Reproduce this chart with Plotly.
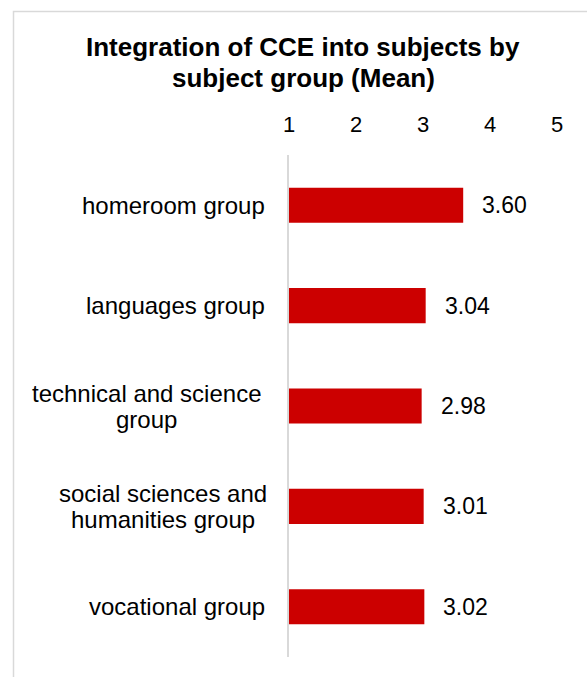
import plotly.graph_objects as go

# Subject groups (lines of each label) and their mean scores
categories = [
    "homeroom group",
    "languages group",
    "technical and science group",
    "social sciences and humanities group",
    "vocational group",
]
category_lines = [
    ["homeroom group"],
    ["languages group"],
    ["technical and science", "group"],
    ["social sciences and", "humanities group"],
    ["vocational group"],
]
means = [3.60, 3.04, 2.98, 3.01, 3.02]
tick_values = [1, 2, 3, 4, 5]
title_lines = ["Integration of CCE into subjects by", "subject group (Mean)"]

W, H = 587, 677
ML, MR, MT, MB = 289, 30, 155, 20
plot_w = W - ML - MR
plot_h = H - MT - MB

FONT = "Liberation Sans, Arial, sans-serif"
BAR_RED = "#CC0000"
GRID_GREY = "#D9D9D9"

# label placement: single lines end near the axis, wrapped ones are centred
label_x_px = [267, 267, 146, 163, 267]
label_anchor = ["right", "right", "center", "center", "right"]
LINE_STEP = 26

fig = go.Figure()
fig.add_trace(go.Bar(
    x=means,
    y=categories,
    orientation="h",
    width=0.35,
    marker=dict(color=BAR_RED, line=dict(width=0)),
    hoverinfo="skip",
))

# value labels to the right of each bar
for cat, v in zip(categories, means):
    fig.add_annotation(
        x=v, y=cat, xref="x", yref="y",
        text=f"{v:.2f}", showarrow=False,
        xanchor="left", xshift=17,
        font=dict(family=FONT, size=23, color="#000000"),
    )

# category labels, one annotation per line for tight line spacing
for cat, lines, xpx, anc in zip(categories, category_lines, label_x_px, label_anchor):
    n = len(lines)
    for i, line in enumerate(lines):
        fig.add_annotation(
            x=0, y=cat, xref="paper", yref="y",
            text=line, showarrow=False,
            xanchor=anc, xshift=xpx - ML,
            yanchor="middle", yshift=((n - 1) / 2 - i) * LINE_STEP,
            font=dict(family=FONT, size=24, color="#000000"),
        )

def px_to_paper_x(px):
    return (px - ML) / plot_w

def px_to_paper_y(py):
    return 1 - (py - MT) / plot_h

# chart title, two bold lines
for line, ypx in zip(title_lines, [47, 78]):
    fig.add_annotation(
        x=px_to_paper_x(303), y=px_to_paper_y(ypx),
        xref="paper", yref="paper",
        text=f"<b>{line}</b>", showarrow=False,
        xanchor="center", yanchor="middle",
        font=dict(family=FONT, size=26, color="#000000"),
    )

# outer chart frame
fig.add_shape(
    type="rect", xref="paper", yref="paper",
    x0=px_to_paper_x(13.5), x1=px_to_paper_x(W + 20),
    y0=px_to_paper_y(H + 20), y1=px_to_paper_y(11.5),
    line=dict(color=GRID_GREY, width=1.5),
    layer="below",
)

fig.update_layout(
    width=W, height=H,
    margin=dict(l=ML, r=MR, t=MT, b=MB, autoexpand=False),
    paper_bgcolor="white", plot_bgcolor="white",
    showlegend=False,
    xaxis=dict(
        side="top", range=[1, 5],
        tickvals=tick_values, ticktext=[str(t) for t in tick_values],
        showgrid=False, zeroline=False, showline=False,
        ticks="", ticklabelstandoff=18,
        tickfont=dict(family=FONT, size=22, color="#000000"),
        fixedrange=True,
    ),
    yaxis=dict(
        autorange="reversed",
        showticklabels=False, showgrid=False, zeroline=False,
        showline=True, linecolor=GRID_GREY, linewidth=1.5,
        ticks="",
        fixedrange=True,
    ),
)

fig.write_html("out.html")
